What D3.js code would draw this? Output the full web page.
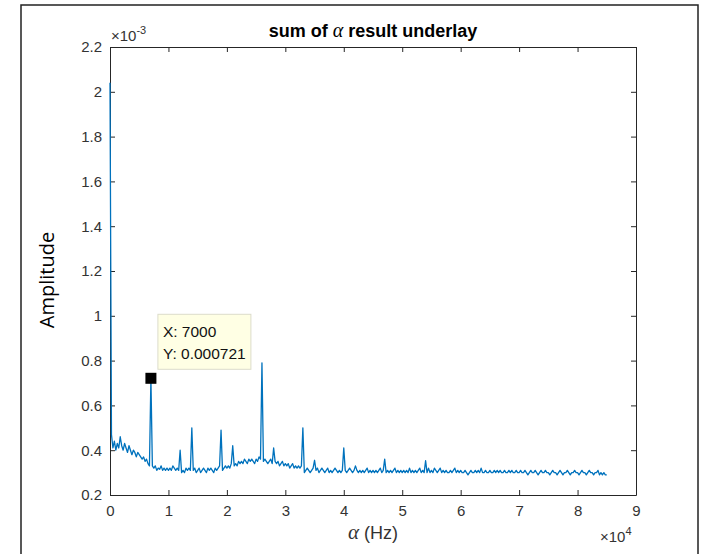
<!DOCTYPE html>
<html>
<head>
<meta charset="utf-8">
<script src="https://cdn.jsdelivr.net/npm/d3@7"></script>
<style>
body { margin: 0; background: #fff; }
text { white-space: pre; }
</style>
</head>
<body>
<div id="c"></div>
<script>
// spectrum sampled every 250 Hz, from 0 to 85000 Hz, amplitude in units of 1e-3
var freq_step = 250;
var amp = [
	2.04, 0.47, 0.41, 0.44, 0.40, 0.43, 0.41, 0.46, 0.42, 0.40, 0.43, 0.41, 0.39, 0.42, 0.40, 0.38, 0.40, 0.39, 0.37, 0.39,
	0.38, 0.37, 0.36, 0.37, 0.35, 0.36, 0.34, 0.33, 0.721, 0.33, 0.32, 0.33, 0.31, 0.32, 0.315, 0.33, 0.31, 0.32, 0.31, 0.32,
	0.31, 0.32, 0.31, 0.33, 0.32, 0.31, 0.32, 0.31, 0.40, 0.30, 0.31, 0.30, 0.32, 0.31, 0.32, 0.31, 0.50, 0.31, 0.32, 0.30,
	0.31, 0.32, 0.30, 0.31, 0.32, 0.31, 0.30, 0.32, 0.31, 0.32, 0.31, 0.30, 0.32, 0.31, 0.32, 0.33, 0.49, 0.31, 0.32, 0.33,
	0.32, 0.33, 0.32, 0.34, 0.42, 0.33, 0.34, 0.33, 0.35, 0.34, 0.35, 0.34, 0.36, 0.35, 0.34, 0.36, 0.35, 0.36, 0.35, 0.34,
	0.36, 0.35, 0.37, 0.36, 0.79, 0.35, 0.36, 0.35, 0.34, 0.35, 0.36, 0.34, 0.41, 0.35, 0.34, 0.35, 0.33, 0.34, 0.35, 0.33,
	0.34, 0.33, 0.34, 0.32, 0.33, 0.34, 0.32, 0.33, 0.32, 0.33, 0.32, 0.33, 0.50, 0.30, 0.31, 0.32, 0.31, 0.30, 0.31, 0.32,
	0.355, 0.31, 0.32, 0.30, 0.31, 0.32, 0.31, 0.30, 0.31, 0.32, 0.30, 0.31, 0.30, 0.31, 0.32, 0.31, 0.30, 0.31, 0.30, 0.31,
	0.41, 0.31, 0.30, 0.31, 0.32, 0.31, 0.30, 0.31, 0.33, 0.31, 0.30, 0.31, 0.30, 0.31, 0.30, 0.31, 0.32, 0.30, 0.31, 0.30,
	0.31, 0.30, 0.31, 0.30, 0.31, 0.32, 0.30, 0.31, 0.36, 0.30, 0.31, 0.30, 0.31, 0.30, 0.31, 0.32, 0.30, 0.31, 0.30, 0.31,
	0.30, 0.31, 0.30, 0.31, 0.30, 0.32, 0.30, 0.31, 0.30, 0.31, 0.30, 0.31, 0.32, 0.30, 0.31, 0.30, 0.353, 0.30, 0.32, 0.30,
	0.31, 0.30, 0.32, 0.31, 0.30, 0.31, 0.32, 0.30, 0.31, 0.30, 0.31, 0.30, 0.30, 0.31, 0.30, 0.31, 0.32, 0.30, 0.31, 0.30,
	0.31, 0.30, 0.30, 0.31, 0.30, 0.29, 0.30, 0.31, 0.30, 0.30, 0.31, 0.30, 0.31, 0.30, 0.32, 0.30, 0.30, 0.31, 0.30, 0.30,
	0.31, 0.30, 0.30, 0.31, 0.30, 0.31, 0.30, 0.31, 0.30, 0.30, 0.31, 0.30, 0.30, 0.31, 0.30, 0.31, 0.30, 0.30, 0.31, 0.30,
	0.30, 0.31, 0.30, 0.30, 0.31, 0.30, 0.29, 0.30, 0.31, 0.30, 0.30, 0.31, 0.30, 0.29, 0.30, 0.31, 0.30, 0.30, 0.31, 0.30,
	0.30, 0.29, 0.30, 0.31, 0.30, 0.30, 0.29, 0.30, 0.31, 0.30, 0.29, 0.30, 0.30, 0.31, 0.30, 0.29, 0.30, 0.30, 0.31, 0.30,
	0.30, 0.29, 0.30, 0.31, 0.30, 0.30, 0.29, 0.30, 0.31, 0.30, 0.30, 0.29, 0.30, 0.30, 0.31, 0.29, 0.30, 0.29, 0.30, 0.29,
	0.29
];

var x_ticks = [0, 1, 2, 3, 4, 5, 6, 7, 8, 9];           // x 10^4 Hz
var y_ticks = [0.2, 0.4, 0.6, 0.8, 1, 1.2, 1.4, 1.6, 1.8, 2, 2.2]; // x 10^-3

// data tip
var tip_freq = 7000;
var tip_amp = 0.721;
var tip_lines = ["X: 7000", "Y: 0.000721"];

var width = 710;
var height = 554;
var ax_left = 110, ax_right = 636, ax_top = 47, ax_bottom = 495;
var axis_col = "#262626";
var line_col = "#0072bd";

var svg = d3.select("#c").append("svg")
	.attr("width", width)
	.attr("height", height)
	.style("font-family", "'Liberation Sans', Arial, sans-serif");

svg.append("rect").attr("width", width).attr("height", height).attr("fill", "#fff");

// outer frame of the screenshot
svg.append("path")
	.attr("d", "M21," + height + "V5H698V" + height)
	.attr("fill", "none")
	.attr("stroke", "#222")
	.attr("stroke-width", 1.5);

var x_scale = d3.scaleLinear()
	.domain([0, 90000])
	.range([ax_left, ax_right]);

var y_scale = d3.scaleLinear()
	.domain([0.2, 2.2])
	.range([ax_bottom, ax_top]);

// set up the axes (ticks inside the box, mirrored on top/right)
function style_axis(g, show_labels) {
	g.selectAll(".domain").attr("stroke", axis_col).attr("stroke-width", 1);
	g.selectAll(".tick line").attr("stroke", axis_col);
	g.selectAll(".tick text")
		.attr("fill", "#333")
		.style("font-size", "15px")
		.style("font-family", "'Liberation Sans', Arial, sans-serif");
	if (!show_labels) g.selectAll(".tick text").remove();
}

svg.append("g")
	.attr("transform", "translate(0," + ax_bottom + ")")
	.call(d3.axisBottom(x_scale)
		.tickValues(x_ticks.map(function(d) { return d * 1e4; }))
		.tickFormat(function(d) { return String(d / 1e4); })
		.tickSizeInner(-5).tickSizeOuter(0).tickPadding(10))
	.call(style_axis, true);

svg.append("g")
	.attr("transform", "translate(0," + ax_top + ")")
	.call(d3.axisTop(x_scale)
		.tickValues(x_ticks.map(function(d) { return d * 1e4; }))
		.tickSizeInner(-5).tickSizeOuter(0))
	.call(style_axis, false);

svg.append("g")
	.attr("transform", "translate(" + ax_left + ",0)")
	.call(d3.axisLeft(y_scale)
		.tickValues(y_ticks)
		.tickFormat(function(d) { return String(d); })
		.tickSizeInner(-5).tickSizeOuter(0).tickPadding(8))
	.call(style_axis, true);

svg.append("g")
	.attr("transform", "translate(" + ax_right + ",0)")
	.call(d3.axisRight(y_scale)
		.tickValues(y_ticks)
		.tickSizeInner(-5).tickSizeOuter(0))
	.call(style_axis, false);

// the spectrum line
var line = d3.line()
	.x(function(d, i) { return x_scale(i * freq_step); })
	.y(function(d) { return y_scale(d); });

svg.append("path")
	.datum(amp)
	.attr("d", line)
	.attr("fill", "none")
	.attr("stroke", line_col)
	.attr("stroke-width", 1.3)
	.attr("stroke-linejoin", "round");

// data tip marker + box
var tx = x_scale(tip_freq), ty = y_scale(tip_amp);
svg.append("rect")
	.attr("x", tx - 5.5).attr("y", ty - 5.5)
	.attr("width", 11).attr("height", 11)
	.attr("fill", "#000");

var tip_g = svg.append("g")
	.attr("transform", "translate(" + (tx + 7) + "," + (ty - 64) + ")");
tip_g.append("rect")
	.attr("width", 93).attr("height", 55)
	.attr("fill", "#ffffe4")
	.attr("stroke", "#dcdccb")
	.attr("stroke-width", 1);
tip_g.selectAll(".tip-text")
	.data(tip_lines)
	.enter()
	.append("text")
	.attr("class", "tip-text")
	.attr("x", 5)
	.attr("y", function(d, i) { return 23 + i * 22; })
	.attr("fill", "#111")
	.style("font-size", "15.5px")
	.text(function(d) { return d; });

// title
var title = svg.append("text")
	.attr("x", (ax_left + ax_right) / 2)
	.attr("y", 37)
	.attr("text-anchor", "middle")
	.attr("fill", "#000")
	.style("font-size", "18px")
	.style("font-weight", "bold");
title.append("tspan").text("sum of ");
title.append("tspan")
	.style("font-family", "'Liberation Serif', serif")
	.style("font-style", "italic")
	.style("font-weight", "normal")
	.style("font-size", "20px")
	.text("α");
title.append("tspan").text(" result underlay");

// exponent labels
var ey = svg.append("text")
	.attr("x", 111).attr("y", 41)
	.attr("fill", "#333")
	.style("font-size", "15px");
ey.append("tspan").text("×10");
ey.append("tspan").attr("dy", -7).style("font-size", "11px").text("-3");

var ex = svg.append("text")
	.attr("x", 600).attr("y", 542)
	.attr("fill", "#333")
	.style("font-size", "15px");
ex.append("tspan").text("×10");
ex.append("tspan").attr("dy", -7).style("font-size", "11px").text("4");

// axis labels
var xl = svg.append("text")
	.attr("x", (ax_left + ax_right) / 2)
	.attr("y", 539)
	.attr("text-anchor", "middle")
	.attr("fill", "#333")
	.style("font-size", "18px");
xl.append("tspan")
	.style("font-family", "'Liberation Serif', serif")
	.style("font-style", "italic")
	.style("font-size", "21px")
	.text("α");
xl.append("tspan").text(" (Hz)");

svg.append("text")
	.attr("transform", "translate(54,280) rotate(-90)")
	.attr("text-anchor", "middle")
	.attr("fill", "#000")
	.style("font-family", "'Open Sans', sans-serif")
	.style("font-size", "20px")
	.text("Amplitude");
</script>
</body>
</html>
